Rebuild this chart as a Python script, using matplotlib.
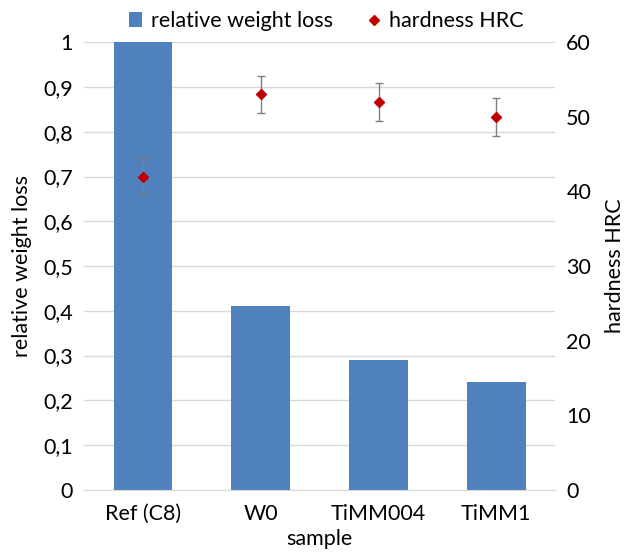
import matplotlib.pyplot as plt
import numpy as np
from matplotlib.ticker import FuncFormatter

samples = ["Ref (C8)", "W0", "TiMM004", "TiMM1"]
weight_loss = [1.0, 0.41, 0.29, 0.24]
hardness = [42, 53, 52, 50]
hardness_err = [2.4, 2.5, 2.5, 2.5]

plt.rcParams['font.family'] = ['Lato', 'DejaVu Sans']
fs = 15.5

fig = plt.figure(figsize=(6.28, 5.56), dpi=100)
ax = fig.add_axes([0.134, 0.119, 0.75, 0.805])
ax2 = ax.twinx()

x = np.arange(len(samples))
bars = ax.bar(x, weight_loss, width=0.5, color='#4f81bd', label='relative weight loss', zorder=2)
ax.set_ylim(0, 1)
ax.set_yticks(np.arange(0, 1.01, 0.1))
ax.yaxis.set_major_formatter(FuncFormatter(lambda v, p: ('%g' % round(v, 1)).replace('.', ',')))
ax.set_xlim(-0.5, len(samples) - 0.5)
ax.set_xticks(x)
ax.set_xticklabels(samples)
ax.grid(axis='y', color='#d9d9d9', linewidth=1, zorder=0)
ax.set_axisbelow(True)

pts = ax2.errorbar(x, hardness, yerr=hardness_err, fmt='D', color='#c00000', markersize=5.5,
                   ecolor='#7f7f7f', elinewidth=1, capsize=3, label='hardness HRC', zorder=3)
ax2.set_ylim(0, 60)
ax2.set_yticks(range(0, 61, 10))

for a in (ax, ax2):
    for s in a.spines.values():
        s.set_visible(False)
    a.tick_params(length=0, labelsize=fs, pad=8)
ax.tick_params(axis='x', pad=10)

ax.spines['bottom'].set_visible(True)
ax.spines['bottom'].set_color('#d9d9d9')

ax.set_ylabel('relative weight loss', fontsize=fs, labelpad=8)
ax2.set_ylabel('hardness HRC', fontsize=fs, labelpad=10)
ax.set_xlabel('sample', fontsize=fs, labelpad=4)

handles = [bars, pts[0]]
fig.legend(handles, ['relative weight loss', 'hardness HRC'], loc='upper center',
           bbox_to_anchor=(0.52, 1.015), ncol=2, frameon=False, fontsize=fs,
           handlelength=0.6, handletextpad=0.4, columnspacing=1.6)

fig.savefig('out.png', dpi=100)
